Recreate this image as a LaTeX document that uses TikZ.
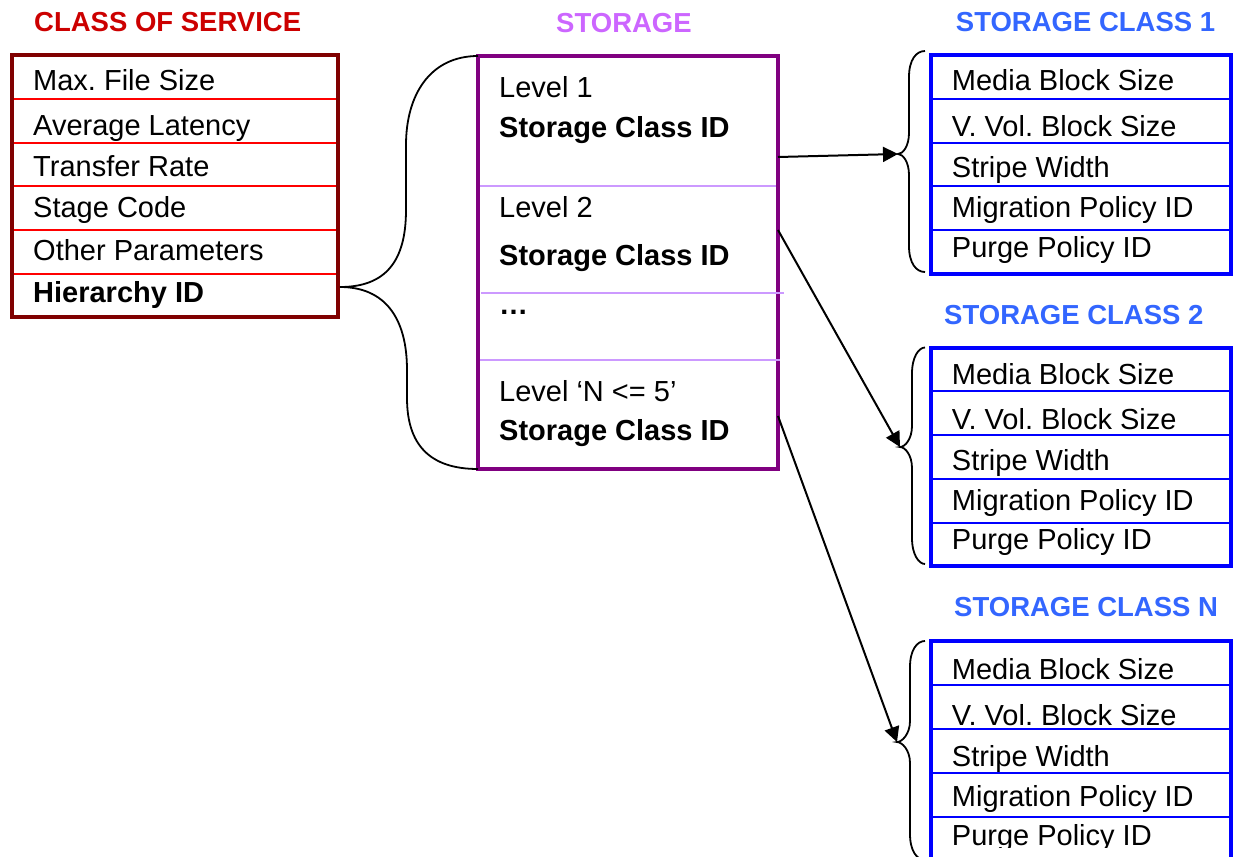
\documentclass[tikz,border=0pt]{standalone}
\usepackage{fontspec}
\setmainfont{Liberation Sans}
\usetikzlibrary{arrows.meta}
\frenchspacing
\definecolor{cosred}{RGB}{204,0,0}
\definecolor{cosborder}{RGB}{128,0,0}
\definecolor{rowred}{RGB}{255,0,0}
\definecolor{sttitle}{RGB}{204,102,255}
\definecolor{stborder}{RGB}{128,0,128}
\definecolor{strow}{RGB}{204,153,255}
\definecolor{sctitle}{RGB}{51,102,255}
\definecolor{scblue}{RGB}{0,0,255}
\newcommand\scbrace[6]{%
  \draw[bracestyle] (#1,#4) .. controls ({#2+7},#4) and (#2,{#4+9}) .. (#2,{#4+26})
    -- (#2,{#5-21}) .. controls (#2,{#5-8}) and ({#3+5},#5) .. (#3,#5)
    .. controls ({#3+5},#5) and (#2,{#5+8}) .. (#2,{#5+21})
    -- (#2,{#6-26}) .. controls (#2,{#6-9}) and ({#2+7},#6) .. (#1,#6);}
\begin{document}
\frenchspacing
\begin{tikzpicture}[x=1pt,y=-1pt,
  txt/.style={anchor=base west, inner sep=0pt, font=\fontsize{29}{34}\selectfont\frenchspacing},
  btxt/.style={anchor=base west, inner sep=0pt, font=\fontsize{29}{34}\selectfont\bfseries},
  ttl/.style={anchor=base west, inner sep=0pt, font=\fontsize{27.5}{32}\selectfont\bfseries},
  boxframe/.style={draw=#1, line width=4pt, rectangle, inner sep=0pt, outer sep=0pt, anchor=north west},
  rowline/.style={draw=#1, line width=2pt},
  bracestyle/.style={draw=black, line width=1.8pt},
  arr/.style={-{Triangle[length=15pt,width=15pt]}, line width=2pt}]
\useasboundingbox (0,0) rectangle (1235,857);
\clip (0,0) rectangle (1235,857);

% ---------- titles
\node[ttl, text=cosred] (tcos) at (34,31.7) {CLASS OF SERVICE};
\node[ttl, text=sttitle] (tst) at (556,32.3) {STORAGE};
\node[ttl, text=sctitle] (tsc1) at (955.7,31.7) {STORAGE CLASS 1};
\node[ttl, text=sctitle] (tsc2) at (944,324.3) {STORAGE CLASS 2};
\node[ttl, text=sctitle] (tscn) at (954,616.7) {STORAGE CLASS N};

% ---------- class of service
\node[boxframe=cosborder, minimum width=326pt, minimum height=262pt] (cos) at (12,55) {};
\foreach \yy in {98.5,142.5,186,230,274}
  \draw[rowline=rowred] ([xshift=2pt]cos.west |- 0,\yy) -- ([xshift=-2pt]cos.east |- 0,\yy);
\node[txt] (c1) at (33,90) {Max. File Size};
\node[txt] (c2) at (33,135.5) {Average Latency};
\node[txt] (c3) at (33,176) {Transfer Rate};
\node[txt] (c4) at (33,217.5) {Stage Code};
\node[txt] (c5) at (33,260) {Other Parameters};
\node[btxt] (c6) at (33,302.7) {Hierarchy ID};

% ---------- storage
\node[boxframe=stborder, minimum width=300pt, minimum height=413pt] (st) at (478,56) {};
\draw[rowline=strow] ([xshift=2pt]st.west |- 0,185.5) -- ([xshift=-2pt]st.east |- 0,185.5);
\draw[rowline=strow] ([xshift=3pt]st.west |- 0,293) -- ([xshift=6pt]st.east |- 0,293);
\draw[rowline=strow] ([xshift=2pt]st.west |- 0,359.5) -- ([xshift=2pt]st.east |- 0,359.5);
\node[txt] (s1) at (499,97.3) {Level 1};
\node[btxt] (s1b) at (499,137.3) {Storage Class ID};
\node[txt] (s2) at (499,217.3) {Level 2};
\node[btxt] (s2b) at (499,265.7) {Storage Class ID};
\node[btxt] (s3) at (499,314) {…};
\node[txt] (s4) at (499,401.7) {Level ‘N <= 5’};
\node[btxt] (s4b) at (499,440) {Storage Class ID};

% ---------- big brace
\coordinate (ht) at (340,287);
\draw[bracestyle] (st.north west) .. controls (430,56) and (406,95) .. (406,145)
  -- (406,210) .. controls (406,262) and (385,287) .. (ht)
  .. controls (385,287) and (407,318) .. (407,370)
  -- (407,398) .. controls (407,445) and (430,469) .. (st.south west);

% ---------- storage class 1
\node[boxframe=scblue, minimum width=300pt, minimum height=219pt] (sc1) at (931,55) {};
\foreach \yy in {98.5,143,186,230}
  \draw[rowline=scblue] ([xshift=2pt]sc1.west |- 0,\yy) -- ([xshift=-2pt]sc1.east |- 0,\yy);
\node[txt] (a1) at (951.7,90.7) {Media Block Size};
\node[txt] (a2) at (951.7,136.7) {V. Vol. Block Size};
\node[txt] (a3) at (951.7,177.3) {Stripe Width};
\node[txt] (a4) at (951.7,217.3) {Migration Policy ID};
\node[txt] (a5) at (951.7,257.3) {Purge Policy ID};
\coordinate (t1) at (898,154);
\scbrace{925}{909}{898}{51}{154}{272}

% ---------- storage class 2
\node[boxframe=scblue, minimum width=300pt, minimum height=218pt] (sc2) at (931,348) {};
\foreach \yy in {391,435,479,523}
  \draw[rowline=scblue] ([xshift=2pt]sc2.west |- 0,\yy) -- ([xshift=-2pt]sc2.east |- 0,\yy);
\node[txt] (b1) at (951.7,384) {Media Block Size};
\node[txt] (b2) at (951.7,429.3) {V. Vol. Block Size};
\node[txt] (b3) at (951.7,470) {Stripe Width};
\node[txt] (b4) at (951.7,510) {Migration Policy ID};
\node[txt] (b5) at (951.7,549.3) {Purge Policy ID};
\coordinate (t2) at (900,447);
\scbrace{925}{912}{900}{347.5}{447}{564}

% ---------- storage class N
\node[boxframe=scblue, minimum width=300pt, minimum height=230pt] (scn) at (931,641) {};
\node[txt] (n1) at (951.7,679) {Media Block Size};
\node[txt] (n2) at (951.7,725) {V. Vol. Block Size};
\node[txt] (n3) at (951.7,766) {Stripe Width};
\node[txt] (n4) at (951.7,806) {Migration Policy ID};
\begin{scope}
  \clip (933,820) rectangle (1229,847.5);
  \node[txt] (n5) at (951.7,845) {Purge Policy ID};
\end{scope}
\foreach \yy in {684.5,728.5,772.5,816.5}
  \draw[rowline=scblue] ([xshift=2pt]scn.west |- 0,\yy) -- ([xshift=-2pt]scn.east |- 0,\yy);
\coordinate (t3) at (897,742);
\scbrace{925}{910}{897}{641}{742}{860}

% ---------- arrows
\draw[arr] (st.east |- 0,157) -- (t1);
\draw[arr] (st.east |- 0,230) -- (t2);
\draw[arr] (st.east |- 0,416) -- (t3);
\end{tikzpicture}
\end{document}
